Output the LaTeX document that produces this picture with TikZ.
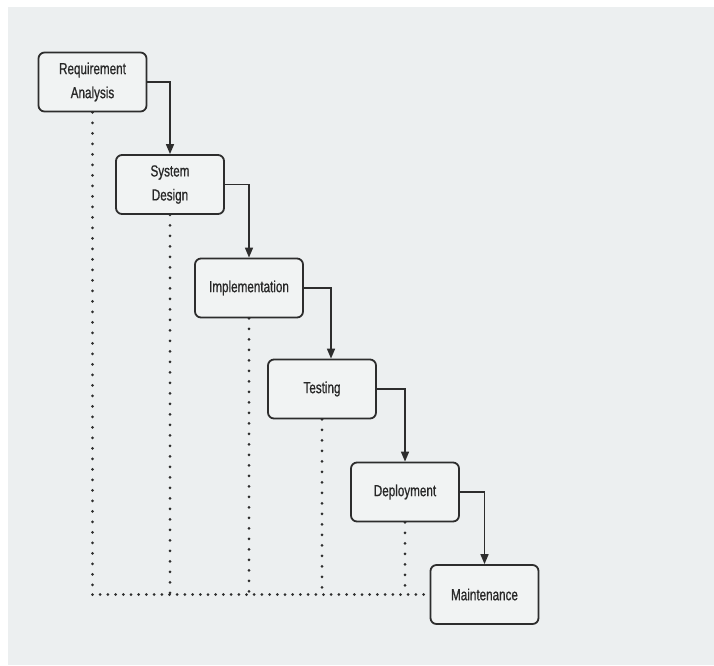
\documentclass[tikz,border=0pt]{standalone}
\usepackage{fontspec}
\setmainfont{Liberation Sans}[FakeStretch=0.73,FakeBold=0.8]
\usetikzlibrary{arrows.meta}
\definecolor{bgc}{RGB}{236,239,240}
\definecolor{boxc}{RGB}{241,243,243}
\definecolor{linec}{RGB}{45,45,45}
\definecolor{txtc}{RGB}{40,40,40}
\tikzset{
  phase/.style={draw=linec, fill=boxc, line width=1.8pt, rounded corners=6pt,
    minimum width=108pt, minimum height=59pt, inner sep=0pt, align=center,
    text=txtc, font=\fontsize{16}{24}\selectfont},
  flow/.style={draw=linec, line width=1.6pt, -{Triangle[length=10pt,width=8pt]}},
  vdots/.style={draw=linec, line width=3pt, line cap=round, dash pattern=on 0pt off 10.5pt},
  hdots/.style={draw=linec, line width=3pt, line cap=round, dash pattern=on 0pt off 7.7pt}
}
\begin{document}
\begin{tikzpicture}[x=1pt,y=-1pt]
\useasboundingbox (0,0) rectangle (714,665);
\fill[white] (0,0) rectangle (714,665);
\fill[bgc] (8,7) rectangle (714,665);

\node[phase] (ra) at (92.5,82) {Requirement\\Analysis};
\node[phase] (sd) at (170,184.5) {System\\Design};
\node[phase] (im) at (249,288) {Implementation};
\node[phase] (te) at (322,389) {Testing};
\node[phase] (de) at (405,492) {Deployment};
\node[phase] (ma) at (484.5,594.5) {Maintenance};

\coordinate (base) at (92.5,594.5);
\coordinate (b2) at (170,594.5);
\coordinate (b3) at (249,594.5);
\coordinate (b4) at (322,594.5);
\coordinate (b5) at (405,594.5);

\draw[vdots] (ra.south) -- (base);
\draw[vdots] (sd.south) -- (b2);
\draw[vdots] (im.south) -- (b3);
\draw[vdots] (te.south) -- (b4);
\draw[vdots] (de.south) -- (b5);
\draw[hdots] (base) -- (ma.west);

\draw[flow] (ra.east) -| (sd.north);
\draw[flow] (sd.east) -| (im.north);
\draw[flow] (im.east) -| ([xshift=9pt]te.north);
\draw[flow] (te.east) -| (de.north);
\draw[flow] (de.east) -| (ma.north);
\end{tikzpicture}
\end{document}
